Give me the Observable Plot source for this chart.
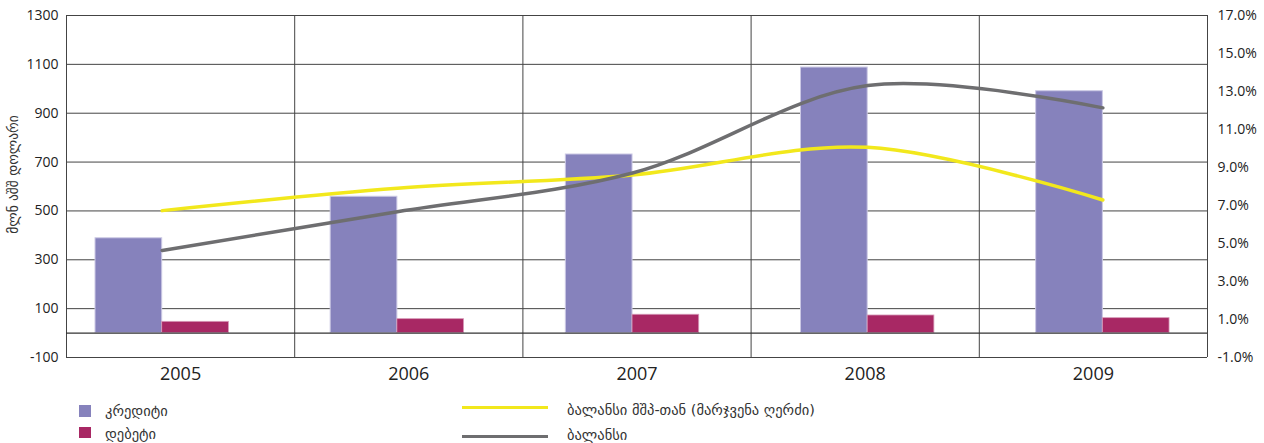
<!DOCTYPE html>
<html><head><meta charset="utf-8">
<script src="https://cdn.jsdelivr.net/npm/d3@7"></script>
<script src="https://cdn.jsdelivr.net/npm/@observablehq/plot@0.6"></script>
<style>
body{margin:0;background:#fff;font-family:"Open Sans",sans-serif;}
#wrap{position:relative;width:1264px;height:443px;overflow:hidden;}
.sw{position:absolute;}
.lg{position:absolute;font-family:"DejaVu Sans",sans-serif;font-size:14.5px;line-height:14px;color:#333;white-space:nowrap;}
</style></head><body>
<div id="wrap"><div id="chart"></div></div>
<script>
// ---- data ----
const years = [2005, 2006, 2007, 2008, 2009];
const credit = [388, 558, 731, 1087, 990];
const debit = [46, 57, 75, 72, 61];
const balance = [338, 497, 655, 1013, 922];
const balanceGdp = [6.73, 7.91, 8.61, 10.06, 7.29];
const leftTicks = [-100, 100, 300, 500, 700, 900, 1100, 1300];
const rightTicks = [-1, 1, 3, 5, 7, 9, 11, 13, 15, 17];
const yLabel = "მლნ აშშ დოლარი";
const names = {credit: "კრედიტი", debit: "დებეტი", gdp: "ბალანსი მშპ-თან (მარჯვენა ღერძი)", balance: "ბალანსი"};
const colors = {credit: "#8682BC", debit: "#A82864", gdp: "#F2E81C", balance: "#6E6E70"};

// ---- layout helpers ----
const toLeft = d3.scaleLinear([-1, 17], [-100, 1300]);
const x0 = 2004.593, x1 = 2009.445;
const bandEdges = d3.range(6).map(i => x0 + i * (x1 - x0) / 5);
const bandCenters = years.map((y, i) => x0 + (i + 0.5) * (x1 - x0) / 5);
const bw = 0.2836;
const rows = years.map((year, i) => ({year, credit: credit[i], debit: debit[i], balance: balance[i], gdp: toLeft(balanceGdp[i])}));

const chart = Plot.plot({
  width: 1264, height: 393,
  marginTop: 15, marginLeft: 66, marginRight: 57, marginBottom: 36,
  style: {fontFamily: "Open Sans, sans-serif", color: "#222", background: "#fff"},
  x: {domain: [x0, x1], axis: null},
  y: {domain: [-100, 1300], axis: null},
  marks: [
    Plot.ruleY(leftTicks, {stroke: "#444", strokeWidth: 1}),
    Plot.ruleX(bandEdges, {stroke: "#444", strokeWidth: 1}),
    Plot.rect(rows, {x1: d => d.year - bw, x2: d => d.year, y1: 0, y2: "credit", fill: colors.credit, stroke: "#cbc8e4", strokeWidth: 1}),
    Plot.rect(rows, {x1: d => d.year, x2: d => d.year + bw, y1: 0, y2: "debit", fill: colors.debit, stroke: "#d69ab8", strokeWidth: 0.8}),
    Plot.ruleY([0], {stroke: "#333", strokeWidth: 1.2}),
    Plot.lineY(rows, {x: "year", y: "gdp", stroke: colors.gdp, strokeWidth: 3.5, curve: "catmull-rom"}),
    Plot.lineY(rows, {x: "year", y: "balance", stroke: colors.balance, strokeWidth: 3.5, curve: "catmull-rom"}),
    Plot.axisY(leftTicks, {anchor: "left", tickSize: 0, tickPadding: 8, fontSize: 14, tickFormat: d => String(d), label: null}),
    Plot.axisY(rightTicks.map(toLeft), {anchor: "right", tickSize: 0, tickPadding: 10, fontSize: 14, tickFormat: v => toLeft.invert(v).toFixed(1) + "%", label: null}),
    Plot.text(years, {x: (d, i) => bandCenters[i], frameAnchor: "bottom", dy: 22, text: d => String(d), fontSize: 18, fill: "#222"}),
    Plot.text([yLabel], {frameAnchor: "left", textAnchor: "middle", dx: -53, dy: -12, rotate: -90, text: d => d, fontSize: 13.5, fontFamily: "DejaVu Sans, sans-serif", fill: "#333"})
  ]
});
const wrap = document.getElementById("wrap");
document.getElementById("chart").appendChild(chart);

// ---- legend ----
function sw(left, top, w, h, c) {
  const e = document.createElement("div");
  e.className = "sw";
  Object.assign(e.style, {left: left + "px", top: top + "px", width: w + "px", height: h + "px", background: c});
  wrap.appendChild(e);
}
function lg(left, cy, t) {
  const e = document.createElement("div");
  e.className = "lg";
  e.textContent = t;
  Object.assign(e.style, {left: left + "px", top: (cy - 7) + "px"});
  wrap.appendChild(e);
}
sw(79, 405, 12, 12, colors.credit); lg(105, 411, names.credit);
sw(79, 427, 12, 11, colors.debit); lg(105, 434, names.debit);
sw(462, 406, 86, 3, colors.gdp); lg(567, 410, names.gdp);
sw(462, 435, 86, 3, colors.balance); lg(567, 435, names.balance);
</script>
</body></html>
